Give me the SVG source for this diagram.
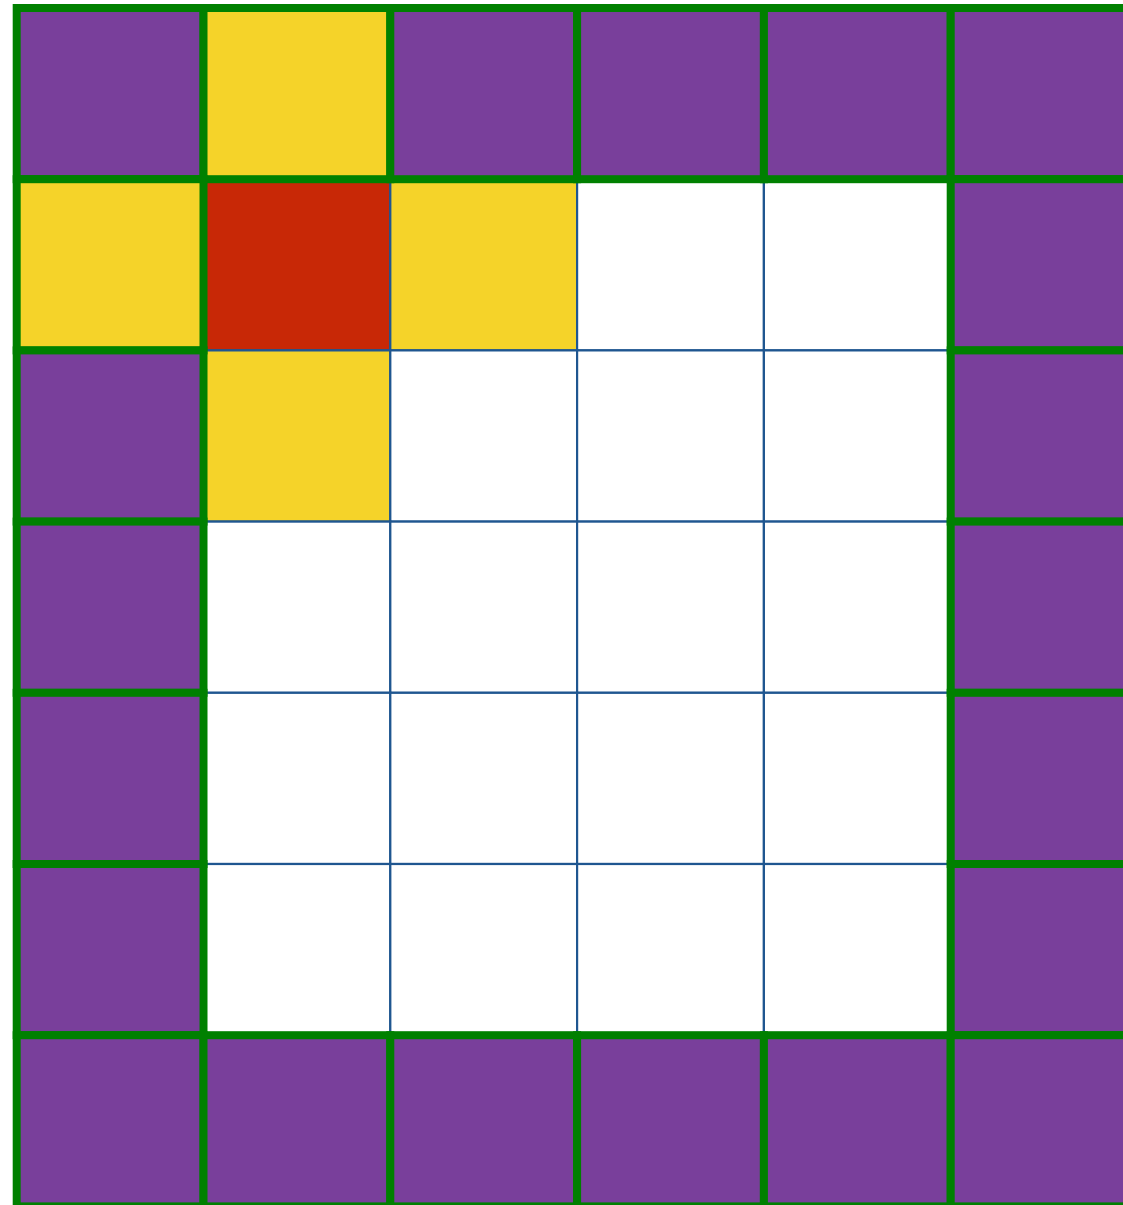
<svg xmlns="http://www.w3.org/2000/svg" width="1123" height="1205" viewBox="0 0 1123 1205">
<style>
.in{stroke:#1f5690;stroke-width:2.2}
.wall{stroke:#008000;stroke-width:8}
.p{fill:#793f9b}
.y{fill:#f5d329}
.r{fill:#c82806}
.w{fill:#ffffff}
</style>
<rect width="1123" height="1205" fill="#ffffff"/>
<g id="interior">
<rect class="in r" x="203.5" y="179.2" width="186.8" height="171.2"/>
<rect class="in y" x="390.3" y="179.2" width="186.8" height="171.2"/>
<rect class="in w" x="577.1" y="179.2" width="186.8" height="171.2"/>
<rect class="in w" x="763.9" y="179.2" width="186.8" height="171.2"/>
<rect class="in y" x="203.5" y="350.4" width="186.8" height="171.2"/>
<rect class="in w" x="390.3" y="350.4" width="186.8" height="171.2"/>
<rect class="in w" x="577.1" y="350.4" width="186.8" height="171.2"/>
<rect class="in w" x="763.9" y="350.4" width="186.8" height="171.2"/>
<rect class="in w" x="203.5" y="521.6" width="186.8" height="171.2"/>
<rect class="in w" x="390.3" y="521.6" width="186.8" height="171.2"/>
<rect class="in w" x="577.1" y="521.6" width="186.8" height="171.2"/>
<rect class="in w" x="763.9" y="521.6" width="186.8" height="171.2"/>
<rect class="in w" x="203.5" y="692.8" width="186.8" height="171.2"/>
<rect class="in w" x="390.3" y="692.8" width="186.8" height="171.2"/>
<rect class="in w" x="577.1" y="692.8" width="186.8" height="171.2"/>
<rect class="in w" x="763.9" y="692.8" width="186.8" height="171.2"/>
<rect class="in w" x="203.5" y="864" width="186.8" height="171.2"/>
<rect class="in w" x="390.3" y="864" width="186.8" height="171.2"/>
<rect class="in w" x="577.1" y="864" width="186.8" height="171.2"/>
<rect class="in w" x="763.9" y="864" width="186.8" height="171.2"/>
</g>
<g id="walls">
<rect class="wall p" x="16.7" y="8" width="186.8" height="171.2"/>
<rect class="wall y" x="203.5" y="8" width="186.8" height="171.2"/>
<rect class="wall p" x="390.3" y="8" width="186.8" height="171.2"/>
<rect class="wall p" x="577.1" y="8" width="186.8" height="171.2"/>
<rect class="wall p" x="763.9" y="8" width="186.8" height="171.2"/>
<rect class="wall p" x="950.7" y="8" width="186.8" height="171.2"/>
<rect class="wall y" x="16.7" y="179.2" width="186.8" height="171.2"/>
<rect class="wall p" x="950.7" y="179.2" width="186.8" height="171.2"/>
<rect class="wall p" x="16.7" y="350.4" width="186.8" height="171.2"/>
<rect class="wall p" x="950.7" y="350.4" width="186.8" height="171.2"/>
<rect class="wall p" x="16.7" y="521.6" width="186.8" height="171.2"/>
<rect class="wall p" x="950.7" y="521.6" width="186.8" height="171.2"/>
<rect class="wall p" x="16.7" y="692.8" width="186.8" height="171.2"/>
<rect class="wall p" x="950.7" y="692.8" width="186.8" height="171.2"/>
<rect class="wall p" x="16.7" y="864" width="186.8" height="171.2"/>
<rect class="wall p" x="950.7" y="864" width="186.8" height="171.2"/>
<rect class="wall p" x="16.7" y="1035.2" width="186.8" height="171.2"/>
<rect class="wall p" x="203.5" y="1035.2" width="186.8" height="171.2"/>
<rect class="wall p" x="390.3" y="1035.2" width="186.8" height="171.2"/>
<rect class="wall p" x="577.1" y="1035.2" width="186.8" height="171.2"/>
<rect class="wall p" x="763.9" y="1035.2" width="186.8" height="171.2"/>
<rect class="wall p" x="950.7" y="1035.2" width="186.8" height="171.2"/>
</g>
</svg>
